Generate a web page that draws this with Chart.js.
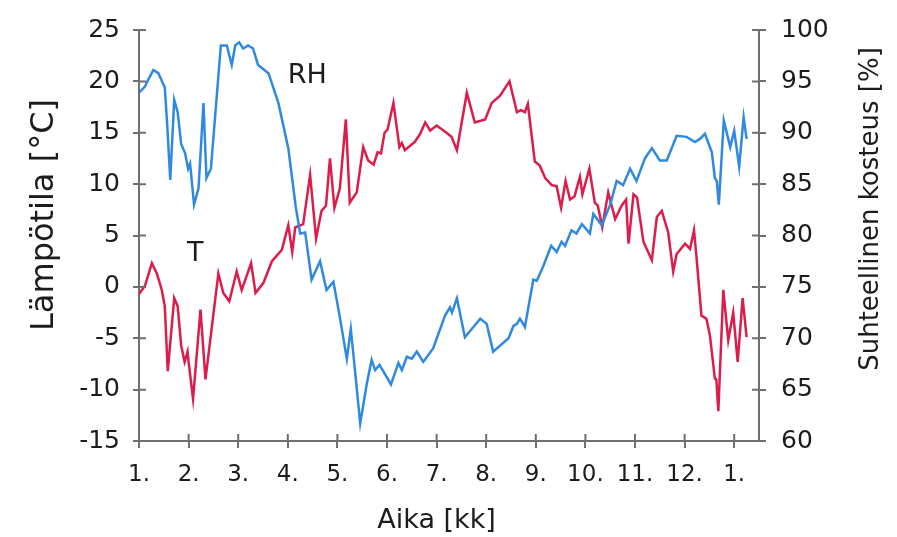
<!DOCTYPE html>
<html><head><meta charset="utf-8">
<script src="https://cdn.jsdelivr.net/npm/chart.js@4/dist/chart.umd.min.js"></script>
<style>html,body{margin:0;padding:0;background:#fff}#wrap{width:897px;height:537px;position:relative}</style>
</head><body><div id="wrap"><canvas id="c" width="897" height="537"></canvas></div>
<script>
// ---- data ----
const monthTicks = [0,1,2,3,4,5,6,7,8,9,10,11,12];
const monthLabels = ["1.","2.","3.","4.","5.","6.","7.","8.","9.","10.","11.","12.","1."];
const tempTicks = [-15,-10,-5,0,5,10,15,20,25];
const rhTicks = [60,65,70,75,80,85,90,95,100];

const rhMonths = [0,0.12,0.19,0.29,0.39,0.52,0.57,0.63,0.71,0.78,0.85,0.93,0.99,1.03,1.11,1.2,1.3,1.36,1.45,1.65,1.77,1.87,1.94,2.02,2.1,2.2,2.3,2.4,2.61,2.81,3.01,3.16,3.25,3.35,3.48,3.65,3.78,3.92,4.04,4.19,4.27,4.35,4.46,4.59,4.69,4.76,4.85,5.08,5.23,5.3,5.4,5.5,5.6,5.73,5.93,6.17,6.27,6.31,6.41,6.57,6.88,7.01,7.14,7.45,7.55,7.62,7.68,7.78,7.95,8.02,8.15,8.31,8.42,8.52,8.59,8.72,8.82,8.93,9.09,9.16,9.33,9.5,9.63,9.76,9.9,10.03,10.2,10.34,10.5,10.64,10.84,11.04,11.21,11.31,11.41,11.55,11.61,11.65,11.69,11.79,11.92,12.0,12.1,12.19,12.25];
const rhValues = [93.9,94.5,95.2,96.1,95.8,94.4,90.7,85.4,93.2,92.0,88.9,88.0,86.5,87.0,83.0,84.6,92.9,85.6,86.5,98.5,98.5,96.6,98.5,98.8,98.2,98.5,98.2,96.6,95.8,92.9,88.5,82.8,80.2,80.3,75.7,77.5,74.7,75.5,72.3,68.0,70.9,67.1,61.7,65.5,67.9,66.9,67.4,65.5,67.6,66.9,68.2,68.0,68.7,67.7,69.0,72.2,73.0,72.5,73.9,70.1,71.9,71.4,68.7,70.0,71.2,71.4,71.9,71.1,75.7,75.6,77.0,79.0,78.4,79.4,79.0,80.5,80.2,81.1,80.2,82.1,81.0,83.0,85.3,84.9,86.5,85.3,87.5,88.5,87.3,87.3,89.7,89.6,89.1,89.4,89.9,88.1,85.6,85.3,83.0,91.2,88.6,90.2,86.7,91.5,89.4];

const tMonths = [0,0.12,0.26,0.36,0.46,0.52,0.58,0.71,0.78,0.85,0.92,0.98,1.0,1.09,1.24,1.34,1.6,1.7,1.82,1.97,2.07,2.26,2.35,2.51,2.68,2.88,3.01,3.09,3.15,3.31,3.45,3.57,3.68,3.77,3.85,3.94,4.05,4.17,4.25,4.39,4.52,4.62,4.73,4.81,4.88,4.95,5.01,5.13,5.25,5.3,5.36,5.56,5.67,5.77,5.87,6.0,6.2,6.3,6.41,6.61,6.77,6.98,7.11,7.28,7.47,7.62,7.7,7.78,7.84,7.98,8.08,8.19,8.32,8.42,8.51,8.6,8.69,8.78,8.89,8.94,9.08,9.19,9.25,9.34,9.46,9.6,9.73,9.82,9.87,9.97,10.04,10.17,10.34,10.44,10.54,10.67,10.77,10.84,11.01,11.11,11.19,11.24,11.34,11.44,11.51,11.61,11.64,11.68,11.78,11.88,11.98,12.07,12.17,12.25];
const tValues = [-0.7,0.1,2.3,1.3,-0.3,-1.9,-8.2,-1.1,-1.9,-5.7,-7.3,-6.3,-7.3,-10.9,-2.2,-9.0,1.3,-0.6,-1.4,1.5,-0.3,2.3,-0.6,0.4,2.5,3.6,6.0,3.4,5.8,6.1,10.9,4.7,7.4,7.9,12.5,7.7,9.6,16.3,8.2,9.2,13.6,12.3,11.9,13.1,13.0,15.0,15.3,17.9,13.6,14.0,13.3,14.1,14.9,16.0,15.2,15.7,15.0,14.6,13.3,18.9,16.0,16.3,17.9,18.6,20.0,17.0,17.2,17.0,17.8,12.2,11.8,10.6,9.9,9.8,7.7,10.3,8.5,8.8,10.7,9.0,11.5,8.2,7.9,5.8,9.2,6.6,7.9,8.5,4.2,9.0,8.7,4.4,2.6,6.8,7.4,5.3,1.5,3.2,4.2,3.7,5.5,2.9,-2.8,-3.1,-4.7,-8.9,-9.0,-12.1,-0.3,-5.2,-2.5,-7.3,-1.1,-4.9];

const titleX = "Aika [kk]";
const titleY = "Lämpötila [°C]";
const titleY2 = "Suhteellinen kosteus [%]";
const labelRH = {text: "RH", month: 3.0, temp: 19.8};
const labelT = {text: "T", month: 0.97, temp: 2.5};

// ---- styles ----
const FONT = "'DejaVu Sans', sans-serif";
const AXIS = '#6f6f6f';
const TEXT = '#1c1c1c';

const overlay = {
  id: 'overlay',
  afterDraw(chart) {
    const ctx = chart.ctx;
    const {x, y, y2} = chart.scales;
    ctx.save();
    // inner halves of the tick marks
    ctx.strokeStyle = AXIS; ctx.lineWidth = 2;
    ctx.beginPath();
    x.ticks.forEach(t => { const px = x.getPixelForValue(t.value); ctx.moveTo(px, x.top); ctx.lineTo(px, x.top - 7); });
    y.ticks.forEach(t => { const py = y.getPixelForValue(t.value); ctx.moveTo(y.right, py); ctx.lineTo(y.right + 7, py); });
    y2.ticks.forEach(t => { const py = y2.getPixelForValue(t.value); ctx.moveTo(y2.left, py); ctx.lineTo(y2.left - 7, py); });
    ctx.stroke();
    // series labels
    ctx.fillStyle = TEXT;
    ctx.font = "27px " + FONT;
    ctx.textAlign = 'left'; ctx.textBaseline = 'alphabetic';
    [labelRH, labelT].forEach(l => ctx.fillText(l.text, x.getPixelForValue(l.month), y.getPixelForValue(l.temp)));
    // axis titles
    ctx.textAlign = 'center';
    ctx.fillText(titleX, (x.getPixelForValue(0) + x.getPixelForValue(12)) / 2, 528);
    ctx.save();
    ctx.font = "32px " + FONT;
    ctx.translate(53, 215); ctx.rotate(-Math.PI / 2);
    ctx.fillText(titleY, 0, 0);
    ctx.restore();
    ctx.save();
    ctx.font = "26px " + FONT;
    ctx.translate(878, 209); ctx.rotate(-Math.PI / 2);
    ctx.fillText(titleY2, 0, 0);
    ctx.restore();
    ctx.restore();
  }
};

const gridOpts = (len) => ({drawOnChartArea: false, drawTicks: true, tickLength: len, color: AXIS, lineWidth: 2});

new Chart(document.getElementById('c'), {
  type: 'line',
  data: {
    datasets: [
      {label: 'RH', data: rhMonths.map((m, i) => ({x: m, y: rhValues[i]})), yAxisID: 'y2',
       borderColor: '#3089e0', borderWidth: 2.5, pointRadius: 0, tension: 0, fill: false},
      {label: 'T', data: tMonths.map((m, i) => ({x: m, y: tValues[i]})), yAxisID: 'y',
       borderColor: '#dc1c4a', borderWidth: 2.5, pointRadius: 0, tension: 0, fill: false}
    ]
  },
  options: {
    responsive: false, animation: false, devicePixelRatio: 1,
    layout: {padding: {top: 23, left: 0, right: 0, bottom: 0}},
    plugins: {legend: {display: false}, tooltip: {enabled: false}},
    scales: {
      x: {
        type: 'linear', position: 'bottom', min: 0, max: 12.5,
        afterBuildTicks: s => { s.ticks = monthTicks.map(v => ({value: v})); },
        afterFit: s => { s.height = 96; },
        ticks: {callback: v => monthLabels[monthTicks.indexOf(v)], color: TEXT, font: {family: FONT, size: 23}, padding: 13, maxRotation: 0, autoSkip: false},
        grid: gridOpts(7), border: {display: true, color: AXIS, width: 2}
      },
      y: {
        type: 'linear', position: 'left', min: -15, max: 25,
        afterBuildTicks: s => { s.ticks = tempTicks.map(v => ({value: v})); },
        afterFit: s => { s.width = 139; },
        ticks: {color: TEXT, font: {family: FONT, size: 25}, padding: 13},
        grid: gridOpts(6), border: {display: true, color: AXIS, width: 2}
      },
      y2: {
        type: 'linear', position: 'right', min: 60, max: 100,
        afterBuildTicks: s => { s.ticks = rhTicks.map(v => ({value: v})); },
        afterFit: s => { s.width = 138; },
        ticks: {color: TEXT, font: {family: FONT, size: 25}, padding: 15},
        grid: gridOpts(7), border: {display: true, color: AXIS, width: 2}
      }
    }
  },
  plugins: [overlay]
});
</script>
</body></html>
